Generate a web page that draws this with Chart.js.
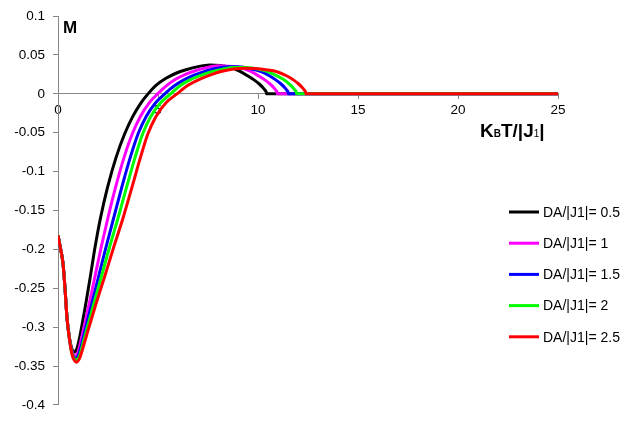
<!DOCTYPE html>
<html>
<head>
<meta charset="utf-8">
<script src="https://cdn.jsdelivr.net/npm/chart.js@4"></script>
<style>
  html, body { margin: 0; padding: 0; background: #ffffff; }
  #wrap { width: 620px; height: 421px; }
</style>
</head>
<body>
<div id="wrap"><canvas id="c" width="620" height="421"></canvas></div>
<script>
// Magnetisation M versus reduced temperature for several anisotropy ratios
const seriesLabels = ['DA/|J1|= 0.5', 'DA/|J1|= 1', 'DA/|J1|= 1.5', 'DA/|J1|= 2', 'DA/|J1|= 2.5'];
const seriesColors = ['#000000', '#ff00ff', '#0000ff', '#00ff00', '#ff0000'];

const T_05 = [0, 0.12, 0.25, 0.35, 0.45, 0.58, 0.7, 0.82, 0.95, 1.1, 1.18, 1.39, 1.61, 1.86, 2.13, 2.48, 2.9, 3.34, 3.74, 4.15, 4.5, 4.9, 5.4, 5.9, 6.4, 7.0, 7.6, 8.1, 8.6, 9.1, 9.5, 9.8, 10.05, 10.25, 10.36, 10.42, 10.43, 25];
const M_05 = [-0.182, -0.198, -0.218, -0.25, -0.288, -0.315, -0.328, -0.332, -0.327, -0.311, -0.3, -0.27, -0.236, -0.196, -0.159, -0.12, -0.082, -0.051, -0.029, -0.0115, 0, 0.011, 0.02, 0.0265, 0.031, 0.035, 0.037, 0.0365, 0.034, 0.029, 0.023, 0.018, 0.013, 0.008, 0.0045, 0.0015, 0, 0];

const T_1 = [0, 0.12, 0.25, 0.35, 0.45, 0.58, 0.7, 0.87, 1.0, 1.16, 1.3, 1.56, 1.84, 2.17, 2.5, 2.88, 3.3, 3.72, 4.12, 4.56, 4.98, 5.4, 5.9, 6.4, 6.9, 7.4, 8.0, 8.5, 9.1, 9.64, 10.04, 10.34, 10.59, 10.79, 10.9, 10.96, 10.97, 25];
const M_1 = [-0.182, -0.198, -0.218, -0.25, -0.288, -0.316, -0.331, -0.337, -0.332, -0.316, -0.3, -0.27, -0.236, -0.196, -0.159, -0.12, -0.082, -0.051, -0.029, -0.0115, 0, 0.01, 0.019, 0.0255, 0.03, 0.0335, 0.036, 0.0355, 0.0335, 0.029, 0.023, 0.018, 0.013, 0.008, 0.0045, 0.0015, 0, 0];

const T_15 = [0, 0.12, 0.25, 0.35, 0.45, 0.58, 0.7, 0.9, 1.04, 1.22, 1.39, 1.69, 2.02, 2.41, 2.79, 3.19, 3.61, 4.01, 4.41, 4.88, 5.34, 5.8, 6.3, 6.8, 7.3, 7.85, 8.5, 9.0, 9.6, 10.15, 10.59, 10.89, 11.14, 11.34, 11.45, 11.51, 11.52, 25];
const M_15 = [-0.182, -0.198, -0.218, -0.25, -0.288, -0.316, -0.333, -0.34, -0.335, -0.318, -0.3, -0.27, -0.236, -0.196, -0.159, -0.12, -0.082, -0.051, -0.029, -0.0115, 0, 0.01, 0.018, 0.024, 0.0285, 0.0325, 0.035, 0.0348, 0.0325, 0.0285, 0.023, 0.018, 0.013, 0.008, 0.0045, 0.0015, 0, 0];

const T_2 = [0, 0.12, 0.25, 0.35, 0.45, 0.58, 0.7, 0.92, 1.06, 1.26, 1.47, 1.79, 2.16, 2.59, 3.01, 3.43, 3.85, 4.24, 4.64, 5.13, 5.63, 6.1, 6.6, 7.1, 7.6, 8.2, 8.8, 9.4, 10.0, 10.55, 11.0, 11.3, 11.55, 11.75, 11.86, 11.92, 11.93, 25];
const M_2 = [-0.182, -0.198, -0.218, -0.25, -0.288, -0.316, -0.334, -0.342, -0.338, -0.32, -0.3, -0.27, -0.236, -0.196, -0.159, -0.12, -0.082, -0.051, -0.029, -0.0115, 0, 0.0105, 0.018, 0.0235, 0.028, 0.0315, 0.034, 0.0338, 0.032, 0.028, 0.0225, 0.018, 0.013, 0.008, 0.0045, 0.0015, 0, 0];

const T_25 = [0, 0.12, 0.25, 0.35, 0.45, 0.58, 0.7, 0.8, 0.93, 1.08, 1.3, 1.55, 1.9, 2.32, 2.8, 3.26, 3.7, 4.12, 4.5, 4.9, 5.4, 5.95, 6.5, 7.1, 7.7, 8.2, 8.77, 9.3, 9.85, 10.4, 10.95, 11.45, 11.77, 12.02, 12.22, 12.33, 12.39, 12.4, 25];
const M_25 = [-0.182, -0.198, -0.218, -0.25, -0.288, -0.317, -0.335, -0.342, -0.345, -0.34, -0.322, -0.3, -0.27, -0.236, -0.196, -0.159, -0.12, -0.082, -0.051, -0.029, -0.0115, 0, 0.011, 0.019, 0.025, 0.029, 0.032, 0.033, 0.0325, 0.031, 0.0285, 0.023, 0.018, 0.013, 0.008, 0.0045, 0.0015, 0, 0];

const xTicks = [0, 5, 10, 15, 20, 25];
const yTicks = [0.1, 0.05, 0, -0.05, -0.1, -0.15, -0.2, -0.25, -0.3, -0.35, -0.4];

const seriesT = [T_05, T_1, T_15, T_2, T_25];
const seriesM = [M_05, M_1, M_15, M_2, M_25];

const FONT = '"Liberation Sans", Arial, sans-serif';
const AXIS_GREY = '#868686';

const datasets = seriesLabels.map((label, i) => ({
  label: label,
  data: seriesT[i].map((t, k) => ({ x: t, y: seriesM[i][k] })),
  borderColor: seriesColors[i],
  backgroundColor: seriesColors[i],
  borderWidth: 3,
  pointRadius: 0,
  fill: false,
  cubicInterpolationMode: 'monotone',
  order: seriesLabels.length - i   // later series painted on top
}));

// Axis titles and the side legend
const decorations = {
  id: 'decorations',
  afterDraw(chart) {
    const ctx = chart.ctx;
    ctx.save();
    ctx.fillStyle = '#000000';
    ctx.textBaseline = 'alphabetic';
    ctx.textAlign = 'left';

    // y title
    ctx.font = 'bold 17px ' + FONT;
    ctx.fillText('M', 63, 33);

    // x title: KBT/|J1| with subscripts
    const parts = [
      { t: 'K', f: 'bold 19px ' + FONT },
      { t: 'B', f: 'bold 10px ' + FONT },
      { t: 'T/|J', f: 'bold 19px ' + FONT },
      { t: '1', f: '10px ' + FONT },
      { t: '|', f: 'bold 19px ' + FONT }
    ];
    let x = 480;
    const base = 137;
    parts.forEach(p => {
      ctx.font = p.f;
      ctx.fillText(p.t, x, base);
      x += ctx.measureText(p.t).width;
    });

    // legend
    ctx.font = '14px ' + FONT;
    ctx.textBaseline = 'middle';
    chart.data.datasets.forEach((ds, i) => {
      const y = 212 + i * 31.2;
      ctx.strokeStyle = ds.borderColor;
      ctx.lineWidth = 3;
      ctx.beginPath();
      ctx.moveTo(509, y);
      ctx.lineTo(539, y);
      ctx.stroke();
      ctx.fillStyle = '#000000';
      ctx.fillText(ds.label, 543, y + 1);
    });
    ctx.restore();
  }
};

new Chart(document.getElementById('c'), {
  type: 'line',
  data: { datasets: datasets },
  options: {
    responsive: false,
    animation: false,
    devicePixelRatio: 1,
    layout: { padding: { top: 13, bottom: 13, left: 0, right: 62 } },
    plugins: { legend: { display: false }, tooltip: { enabled: false } },
    scales: {
      x: {
        type: 'linear',
        min: 0,
        max: 25,
        position: { y: 0 },
        afterBuildTicks: s => { s.ticks = xTicks.map(v => ({ value: v })); },
        ticks: {
          color: '#000000',
          font: { family: FONT, size: 13.5 },
          padding: 3,
          maxRotation: 0,
          callback: v => String(v)
        },
        grid: { drawOnChartArea: false, drawTicks: true, tickLength: 5, color: AXIS_GREY },
        border: { display: true, color: AXIS_GREY, width: 1 }
      },
      y: {
        type: 'linear',
        min: -0.4,
        max: 0.1,
        afterFit: s => { s.width = 58; },
        afterBuildTicks: s => { s.ticks = yTicks.map(v => ({ value: v })); },
        ticks: {
          color: '#000000',
          font: { family: FONT, size: 13.5 },
          padding: 8,
          callback: v => String(v)
        },
        grid: { drawOnChartArea: false, drawTicks: true, tickLength: 5, color: AXIS_GREY },
        border: { display: true, color: AXIS_GREY, width: 1 }
      }
    }
  },
  plugins: [decorations]
});
</script>
</body>
</html>
